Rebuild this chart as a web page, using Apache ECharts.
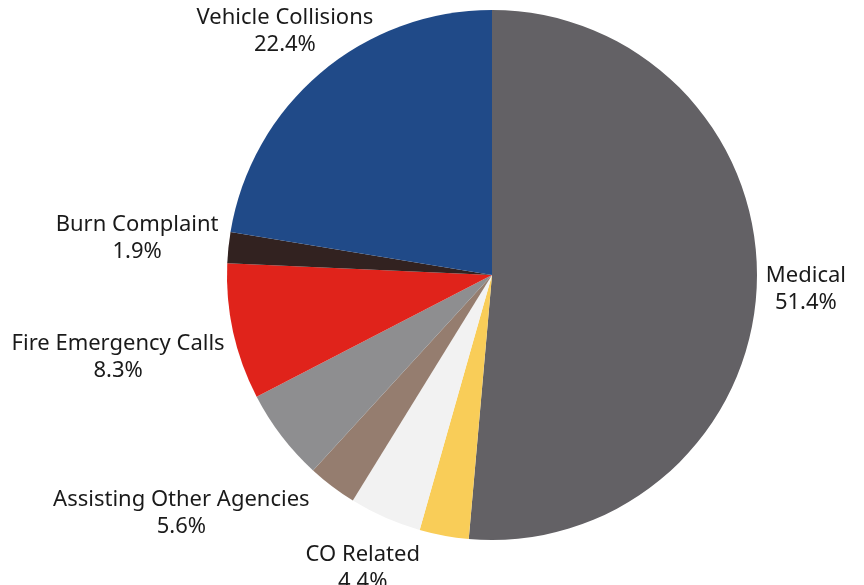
<!DOCTYPE html>
<html>
<head>
<meta charset="utf-8">
<script src="https://cdn.jsdelivr.net/npm/echarts@6/dist/echarts.min.js"></script>
<style>html,body{margin:0;padding:0;background:#fff}#c{width:864px;height:585px}</style>
</head>
<body>
<div id="c"></div>
<script>
const categories = ['Medical','Hazardous Conditions','CO Related','Service Calls','Assisting Other Agencies','Fire Emergency Calls','Burn Complaint','Vehicle Collisions'];
const values = [51.4, 3.0, 4.4, 3.0, 5.6, 8.3, 1.9, 22.4];
const colors = ['#636165','#F9CD58','#F2F2F2','#957D6F','#8E8E90','#E0231B','#322220','#204A88'];
const showLabel = [true,false,true,false,true,true,true,true];

const CX = 492, CY = 275, R = 265, GAP = 8, TOP = 4;
const total = values.reduce((a,b)=>a+b,0);
const cum = [];
values.reduce((acc,v,i)=>{cum[i]=acc; return acc+v;},0);

const chart = echarts.init(document.getElementById('c'), null, {renderer:'canvas'});
chart.setOption({
  animation:false,
  series:[{
    type:'pie',
    center:[CX, CY],
    radius:R,
    startAngle:90,
    clockwise:true,
    avoidLabelOverlap:false,
    data: categories.map((n,i)=>({
      name:n, value:values[i],
      itemStyle:{color:colors[i]},
      label:{show:showLabel[i]}
    })),
    itemStyle:{borderWidth:0},
    label:{
      position:'outside',
      fontFamily:'Noto Sans',
      fontSize:22,
      lineHeight:27,
      color:'#1a1a1a',
      formatter:p=>p.name+'\n'+p.value.toFixed(1)+'%'
    },
    labelLine:{show:false},
    labelLayout:function(params){
      const i = params.dataIndex;
      const theta = (cum[i] + values[i]/2)/total*2*Math.PI;
      const ux = Math.sin(theta), uy = -Math.cos(theta);
      const w = params.labelRect.width, h = params.labelRect.height;
      let r = R + GAP + Math.abs(ux)*w/2 + Math.abs(uy)*h/2;
      let y = CY + uy*r;
      if (y - h/2 < TOP && uy < 0) {
        r = (CY - TOP - h/2)/(-uy);
        y = CY + uy*r;
      }
      const x = CX + ux*r;
      return {x:x, y:y, align:'center', verticalAlign:'middle'};
    }
  }]
});
</script>
</body>
</html>
